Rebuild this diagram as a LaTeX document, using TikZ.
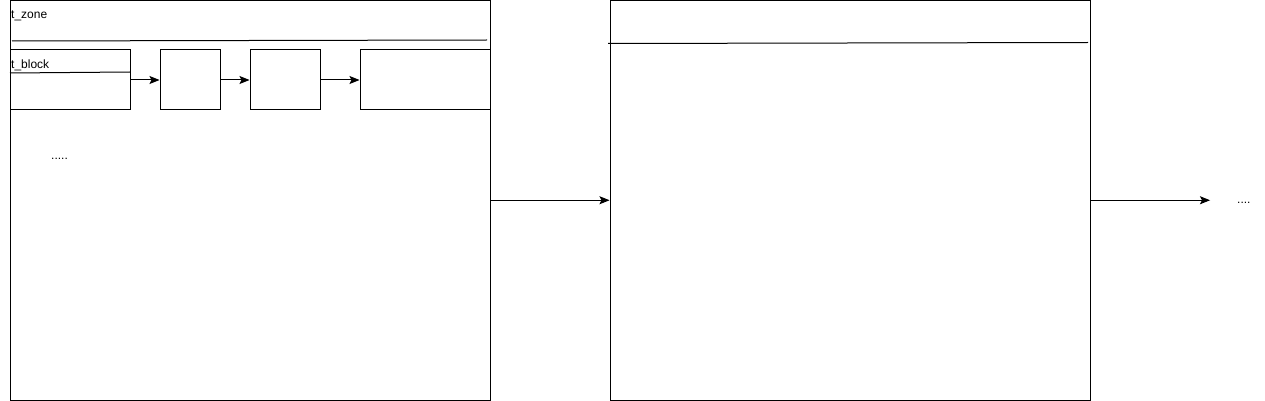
\documentclass[tikz,border=0pt]{standalone}
\usepackage{fontspec}
\setmainfont{Liberation Sans}
\usetikzlibrary{arrows.meta}
\begin{document}
\begin{tikzpicture}[x=1pt,y=-1pt,
  box/.style={draw=black,line width=1pt,fill=white},
  conn/.style={draw=black,line width=1pt,-{Stealth[length=10pt,width=8pt,inset=2pt]}},
  lbl/.style={inner sep=0pt,anchor=west,font=\fontsize{12}{14}\selectfont},
  sep/.style={draw=black,line width=1pt}]
\useasboundingbox (0,0) rectangle (1265,401);
\fill[white] (0,0) rectangle (1265,401);
% big boxes
\node[inner sep=0pt,minimum width=480pt,minimum height=399.5pt,draw=black,line width=1pt] (zone) at (250,200.25) {};
\node[inner sep=0pt,minimum width=480pt,minimum height=399.5pt,draw=black,line width=1pt] (zone2) at (850,200.25) {};
\node[lbl] (tzone) at (11,15.5) {t\_zone};
\coordinate (zl1) at (12,41);
\coordinate (zl2) at (487,40);
\draw[sep] (zl1) -- (zl2);
\coordinate (rl1) at (608,43.5);
\coordinate (rl2) at (1088,42.5);
\draw[sep] (rl1) -- (rl2);
% blocks
\node[box,minimum width=120pt,minimum height=60pt,inner sep=0pt] (b1) at (70,80) {};
\node[box,minimum width=60pt,minimum height=60pt,inner sep=0pt] (b2) at (190,80) {};
\node[box,minimum width=70pt,minimum height=60pt,inner sep=0pt] (b3) at (285,80) {};
\node[box,minimum width=130pt,minimum height=60pt,inner sep=0pt] (b4) at (425,80) {};
\node[lbl] (tblock) at (11,65.5) {t\_block};
\coordinate (bl1) at (10,73);
\coordinate (bl2) at (130,72);
\draw[sep] (bl1) -- (bl2);
\draw[conn] (b1.east) -- (b2.west);
\draw[conn] (b2.east) -- (b3.west);
\draw[conn] (b3.east) -- (b4.west);
\node[lbl] (dots1) at (51,159) {.....};
% connectors between zones
\draw[conn] (zone.east) -- (zone2.west);
\coordinate (endpt) at (1210,200.25);
\draw[conn] (zone2.east) -- (endpt);
\node[lbl] (dots2) at (1237,203) {....};
\end{tikzpicture}
\end{document}
